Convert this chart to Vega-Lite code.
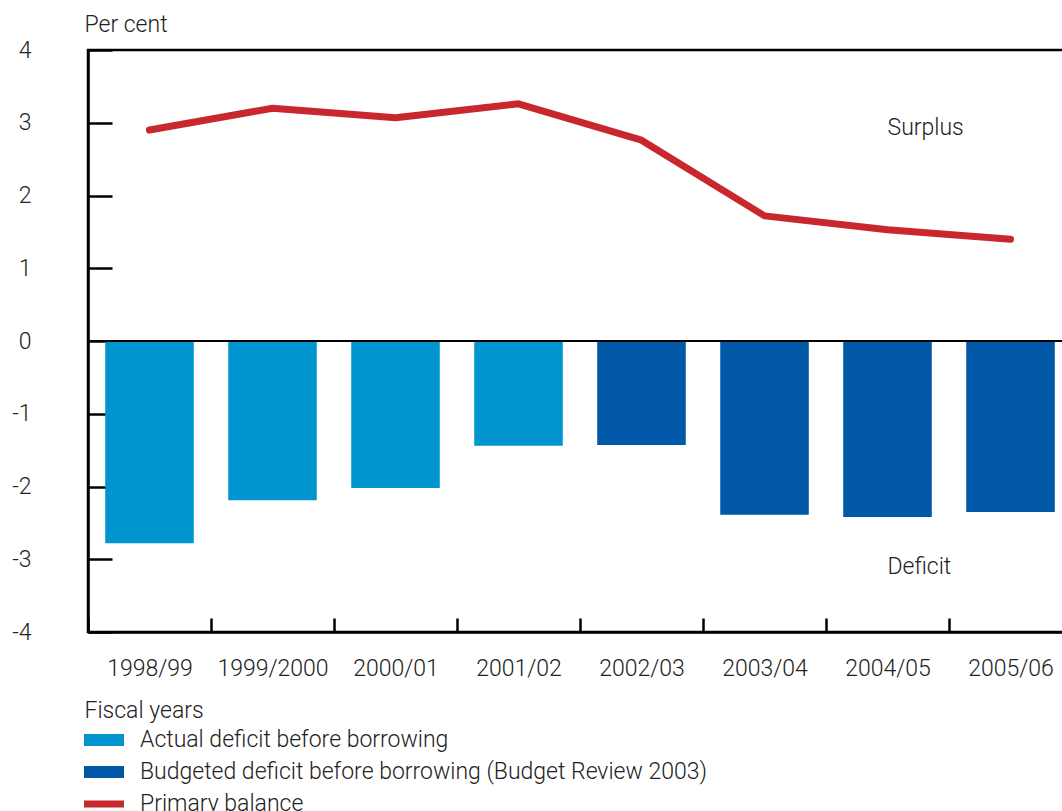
{
  "$schema": "https://vega.github.io/schema/vega-lite/v6.json",
  "width": 984,
  "height": 582,
  "autosize": "none",
  "padding": {"left": 88, "top": 50, "right": 0, "bottom": 179},
  "background": "white",
  "config": {
    "view": {"stroke": "black", "strokeWidth": 2.5},
    "font": "Roboto",
    "axis": {
      "domainColor": "black",
      "domainWidth": 2.5,
      "tickColor": "black",
      "tickWidth": 2.5,
      "grid": false,
      "labelFont": "Roboto",
      "labelFontSize": 23,
      "labelFontWeight": 300,
      "labelColor": "#222222",
      "titleFont": "Roboto",
      "titleFontSize": 23,
      "titleFontWeight": 300,
      "titleColor": "#222222"
    },
    "legend": {
      "labelFont": "Roboto",
      "labelFontSize": 23,
      "labelFontWeight": 300,
      "labelColor": "#222222",
      "labelLimit": 0
    }
  },
  "datasets": {
    "fiscal": [
      {"year": "1998/99", "deficit": -2.78, "primary": 2.90, "type": "Actual deficit before borrowing"},
      {"year": "1999/2000", "deficit": -2.19, "primary": 3.20, "type": "Actual deficit before borrowing"},
      {"year": "2000/01", "deficit": -2.02, "primary": 3.07, "type": "Actual deficit before borrowing"},
      {"year": "2001/02", "deficit": -1.44, "primary": 3.26, "type": "Actual deficit before borrowing"},
      {"year": "2002/03", "deficit": -1.43, "primary": 2.76, "type": "Budgeted deficit before borrowing (Budget Review 2003)"},
      {"year": "2003/04", "deficit": -2.39, "primary": 1.72, "type": "Budgeted deficit before borrowing (Budget Review 2003)"},
      {"year": "2004/05", "deficit": -2.42, "primary": 1.53, "type": "Budgeted deficit before borrowing (Budget Review 2003)"},
      {"year": "2005/06", "deficit": -2.35, "primary": 1.40, "type": "Budgeted deficit before borrowing (Budget Review 2003)"}
    ],
    "notes": [
      {"year": "2004/05", "value": 2.93, "label": "Surplus"},
      {"year": "2004/05", "value": -3.1, "label": "Deficit"}
    ]
  },
  "layer": [
    {
      "data": {"name": "fiscal"},
      "mark": {"type": "bar", "width": {"band": 0.72}},
      "encoding": {
        "x": {
          "field": "year",
          "type": "nominal",
          "sort": null,
          "scale": {"paddingInner": 0, "paddingOuter": 0},
          "axis": {
            "tickSize": -14,
            "tickBand": "extent",
            "labelPadding": 39,
            "labelAngle": 0,
            "title": "Fiscal years",
            "titleX": -4,
            "titleY": 78,
            "titleAlign": "left",
            "titleBaseline": "middle"
          }
        },
        "y": {
          "field": "deficit",
          "type": "quantitative",
          "scale": {"domain": [-4, 4], "nice": false},
          "axis": {
            "values": [-4, -3, -2, -1, 0, 1, 2, 3, 4],
            "labelExpr": "datum.value + ''",
            "tickSize": -24,
            "labelPadding": 81,
            "labelAlign": "right",
            "title": "Per cent",
            "titleAngle": 0,
            "titleAlign": "left",
            "titleBaseline": "middle",
            "titleX": -4,
            "titleY": -26
          }
        },
        "color": {
          "field": "type",
          "type": "nominal",
          "scale": {
            "domain": ["Actual deficit before borrowing", "Budgeted deficit before borrowing (Budget Review 2003)", "Primary balance"],
            "range": ["#0095CE", "#0058A6", "#C8272E"]
          },
          "legend": {
            "title": null,
            "orient": "none",
            "legendX": -4,
            "legendY": 670,
            "symbolSize": 1600,
            "symbolStrokeWidth": 0,
            "labelOffset": 16,
            "rowPadding": 0,
            "encode": {
              "symbols": {
                "update": {
                  "shape": {"signal": "datum.value === 'Primary balance' ? 'M-1,-0.17H1V0.17H-1Z' : 'M-1,-0.3H1V0.3H-1Z'"},
                  "strokeWidth": {"value": 0}
                }
              }
            }
          }
        }
      }
    },
    {
      "data": {"name": "fiscal"},
      "mark": {"type": "line", "strokeWidth": 7, "strokeCap": "round", "strokeJoin": "round"},
      "encoding": {
        "x": {"field": "year", "type": "nominal", "sort": null},
        "y": {"field": "primary", "type": "quantitative"},
        "color": {"datum": "Primary balance"}
      }
    },
    {
      "data": {"name": "fiscal"},
      "mark": {"type": "rule", "color": "black", "strokeWidth": 2},
      "encoding": {"y": {"datum": 0, "type": "quantitative"}}
    },
    {
      "data": {"name": "notes"},
      "mark": {"type": "text", "align": "left", "baseline": "middle", "fontSize": 23, "fontWeight": 300, "font": "Roboto", "color": "#222222"},
      "encoding": {
        "x": {"field": "year", "type": "nominal", "sort": null},
        "y": {"field": "value", "type": "quantitative"},
        "text": {"field": "label"}
      }
    }
  ]
}
